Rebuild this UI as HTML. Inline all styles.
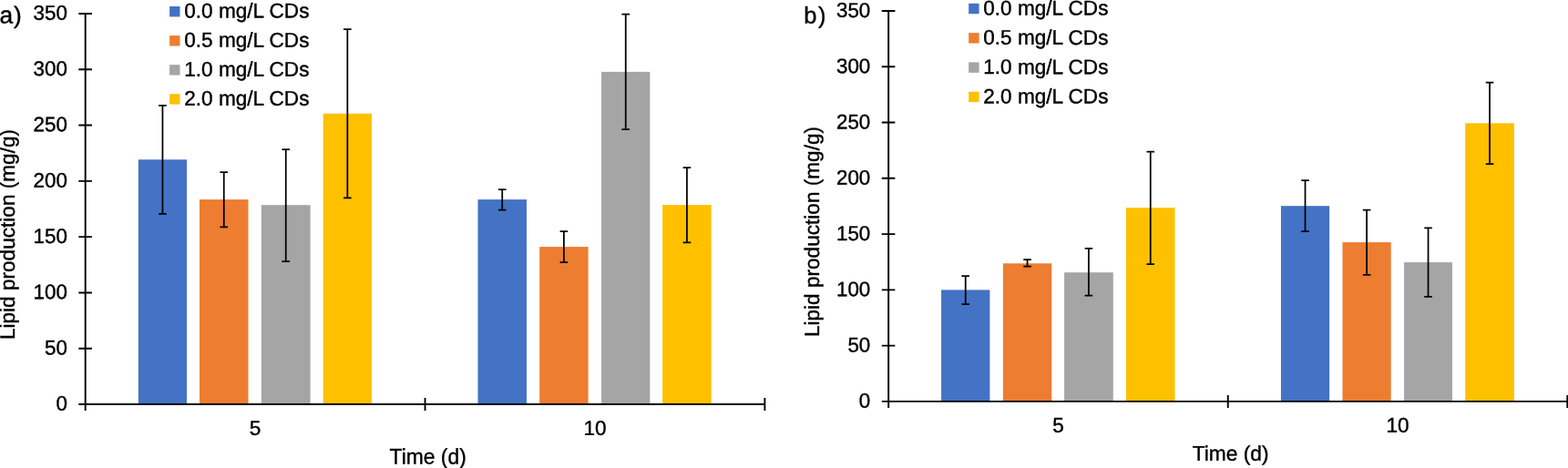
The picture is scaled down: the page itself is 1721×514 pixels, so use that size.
<!DOCTYPE html>
<html><head><meta charset="utf-8"><title>Lipid production</title>
<style>
html,body{margin:0;padding:0;background:#fff;}
body{width:1721px;height:514px;overflow:hidden;}
svg{display:block;}
text{font-family:"Liberation Sans", Arial, sans-serif;fill:#000;stroke:#000;stroke-width:0.4px;text-rendering:geometricPrecision;}
</style></head><body>
<svg width="1721" height="514" viewBox="0 0 1721 514">
<rect width="1721" height="514" fill="#fff"/>
<rect x="151.90" y="175.30" width="53.10" height="268.70" fill="#4472C4"/>
<rect x="219.00" y="219.10" width="53.50" height="224.90" fill="#ED7D31"/>
<rect x="286.90" y="225.20" width="53.70" height="218.80" fill="#A5A5A5"/>
<rect x="354.70" y="124.75" width="53.30" height="319.25" fill="#FFC000"/>
<rect x="524.50" y="219.10" width="53.50" height="224.90" fill="#4472C4"/>
<rect x="592.20" y="271.10" width="53.40" height="172.90" fill="#ED7D31"/>
<rect x="660.10" y="78.90" width="53.30" height="365.10" fill="#A5A5A5"/>
<rect x="727.20" y="225.10" width="53.50" height="218.90" fill="#FFC000"/>
<path d="M178.45 115.80V234.80M174.15 115.80H182.75M174.15 234.80H182.75" stroke="#000" stroke-width="1.75" fill="none"/>
<path d="M245.75 189.00V249.30M241.45 189.00H250.05M241.45 249.30H250.05" stroke="#000" stroke-width="1.75" fill="none"/>
<path d="M313.75 164.10V287.00M309.45 164.10H318.05M309.45 287.00H318.05" stroke="#000" stroke-width="1.75" fill="none"/>
<path d="M381.35 32.15V217.35M377.05 32.15H385.65M377.05 217.35H385.65" stroke="#000" stroke-width="1.75" fill="none"/>
<path d="M551.25 208.00V230.66M546.95 208.00H555.55M546.95 230.66H555.55" stroke="#000" stroke-width="1.75" fill="none"/>
<path d="M618.90 254.15V288.20M614.60 254.15H623.20M614.60 288.20H623.20" stroke="#000" stroke-width="1.75" fill="none"/>
<path d="M686.75 15.60V142.10M682.45 15.60H691.05M682.45 142.10H691.05" stroke="#000" stroke-width="1.75" fill="none"/>
<path d="M753.95 184.10V266.35M749.65 184.10H758.25M749.65 266.35H758.25" stroke="#000" stroke-width="1.75" fill="none"/>
<path d="M93.70 15.00V451.00M92.70 444.00H840.40M86.30 444.00H93.70M86.30 382.71H100.90M86.30 321.43H100.90M86.30 260.14H100.90M86.30 198.86H100.90M86.30 137.57H100.90M86.30 76.29H100.90M86.30 15.00H100.90M466.55 437.00V451.00M839.40 437.00V451.00" stroke="#000" stroke-width="1.9" fill="none"/>
<text transform="translate(73.90 450.80) scale(1 1.008) skewY(0.05)" text-anchor="end" font-size="22.4">0</text>
<text transform="translate(73.90 389.51) scale(1 1.008) skewY(0.05)" text-anchor="end" font-size="22.4">50</text>
<text transform="translate(73.90 328.23) scale(1 1.008) skewY(0.05)" text-anchor="end" font-size="22.4">100</text>
<text transform="translate(73.90 266.94) scale(1 1.008) skewY(0.05)" text-anchor="end" font-size="22.4">150</text>
<text transform="translate(73.90 205.66) scale(1 1.008) skewY(0.05)" text-anchor="end" font-size="22.4">200</text>
<text transform="translate(73.90 144.37) scale(1 1.008) skewY(0.05)" text-anchor="end" font-size="22.4">250</text>
<text transform="translate(73.90 83.09) scale(1 1.008) skewY(0.05)" text-anchor="end" font-size="22.4">300</text>
<text transform="translate(73.90 21.80) scale(1 1.008) skewY(0.05)" text-anchor="end" font-size="22.4">350</text>
<text transform="translate(280.12 477.70) scale(1 0.992) skewY(0.05)" text-anchor="middle" font-size="22.6">5</text>
<text transform="translate(652.98 477.70) scale(1 0.992) skewY(0.05)" text-anchor="middle" font-size="22.6">10</text>
<text transform="translate(469.65 509.58) scale(1 1.047) skewY(0.05)" text-anchor="middle" font-size="22.85">Time (d)</text>
<text transform="translate(16.00 257.50) rotate(-90) scale(1 1.0)" x="0" y="0" text-anchor="middle" font-size="22.6">Lipid production (mg/g)</text>
<rect x="186.10" y="7.00" width="11.4" height="11.4" fill="#4472C4"/>
<text transform="translate(202.20 19.50) scale(1 1.005) skewY(0.05)" font-size="22.6">0.0 mg/L CDs</text>
<rect x="186.10" y="39.07" width="11.4" height="11.4" fill="#ED7D31"/>
<text transform="translate(202.20 51.57) scale(1 1.005) skewY(0.05)" font-size="22.6">0.5 mg/L CDs</text>
<rect x="186.10" y="71.14" width="11.4" height="11.4" fill="#A5A5A5"/>
<text transform="translate(202.20 83.64) scale(1 1.005) skewY(0.05)" font-size="22.6">1.0 mg/L CDs</text>
<rect x="186.10" y="103.21" width="11.4" height="11.4" fill="#FFC000"/>
<text transform="translate(202.20 115.71) scale(1 1.005) skewY(0.05)" font-size="22.6">2.0 mg/L CDs</text>
<text transform="translate(-0.60 25.56) scale(1 1.0) skewY(0.05)" letter-spacing="1.0" font-size="26.4">a)</text>
<rect x="1033.10" y="318.40" width="53.30" height="122.50" fill="#4472C4"/>
<rect x="1100.90" y="289.30" width="53.40" height="151.60" fill="#ED7D31"/>
<rect x="1168.10" y="299.20" width="53.70" height="141.70" fill="#A5A5A5"/>
<rect x="1236.00" y="228.20" width="53.50" height="212.70" fill="#FFC000"/>
<rect x="1405.95" y="226.20" width="53.20" height="214.70" fill="#4472C4"/>
<rect x="1473.50" y="266.10" width="53.20" height="174.80" fill="#ED7D31"/>
<rect x="1541.10" y="288.10" width="52.90" height="152.80" fill="#A5A5A5"/>
<rect x="1608.20" y="135.30" width="53.70" height="305.60" fill="#FFC000"/>
<path d="M1059.75 303.10V334.10M1055.45 303.10H1064.05M1055.45 334.10H1064.05" stroke="#000" stroke-width="1.75" fill="none"/>
<path d="M1127.60 285.20V292.50M1123.30 285.20H1131.90M1123.30 292.50H1131.90" stroke="#000" stroke-width="1.75" fill="none"/>
<path d="M1194.95 272.90V324.70M1190.65 272.90H1199.25M1190.65 324.70H1199.25" stroke="#000" stroke-width="1.75" fill="none"/>
<path d="M1262.75 166.60V290.10M1258.45 166.60H1267.05M1258.45 290.10H1267.05" stroke="#000" stroke-width="1.75" fill="none"/>
<path d="M1432.55 198.10V254.00M1428.25 198.10H1436.85M1428.25 254.00H1436.85" stroke="#000" stroke-width="1.75" fill="none"/>
<path d="M1500.10 230.60V301.90M1495.80 230.60H1504.40M1495.80 301.90H1504.40" stroke="#000" stroke-width="1.75" fill="none"/>
<path d="M1567.55 250.25V325.90M1563.25 250.25H1571.85M1563.25 325.90H1571.85" stroke="#000" stroke-width="1.75" fill="none"/>
<path d="M1635.05 90.70V180.00M1630.75 90.70H1639.35M1630.75 180.00H1639.35" stroke="#000" stroke-width="1.75" fill="none"/>
<path d="M975.20 12.00V447.90M974.20 440.90H1721.30M967.80 440.90H975.20M967.80 379.63H982.40M967.80 318.36H982.40M967.80 257.09H982.40M967.80 195.81H982.40M967.80 134.54H982.40M967.80 73.27H982.40M967.80 12.00H982.40M1347.75 433.90V447.90M1720.30 433.90V447.90" stroke="#000" stroke-width="1.9" fill="none"/>
<text transform="translate(955.30 447.80) scale(1 1.015) skewY(0.05)" text-anchor="end" font-size="22.4">0</text>
<text transform="translate(955.30 386.53) scale(1 1.015) skewY(0.05)" text-anchor="end" font-size="22.4">50</text>
<text transform="translate(955.30 325.26) scale(1 1.015) skewY(0.05)" text-anchor="end" font-size="22.4">100</text>
<text transform="translate(955.30 263.99) scale(1 1.015) skewY(0.05)" text-anchor="end" font-size="22.4">150</text>
<text transform="translate(955.30 202.71) scale(1 1.015) skewY(0.05)" text-anchor="end" font-size="22.4">200</text>
<text transform="translate(955.30 141.44) scale(1 1.015) skewY(0.05)" text-anchor="end" font-size="22.4">250</text>
<text transform="translate(955.30 80.17) scale(1 1.015) skewY(0.05)" text-anchor="end" font-size="22.4">300</text>
<text transform="translate(955.30 18.90) scale(1 1.015) skewY(0.05)" text-anchor="end" font-size="22.4">350</text>
<text transform="translate(1161.47 474.70) scale(1 1.01) skewY(0.05)" text-anchor="middle" font-size="22.6">5</text>
<text transform="translate(1534.03 474.70) scale(1 1.01) skewY(0.05)" text-anchor="middle" font-size="22.6">10</text>
<text transform="translate(1350.60 505.70) scale(1 1.0) skewY(0.05)" text-anchor="middle" font-size="22.75">Time (d)</text>
<text transform="translate(898.90 254.50) rotate(-90) scale(1 1.0)" x="0" y="0" text-anchor="middle" font-size="22.6">Lipid production (mg/g)</text>
<rect x="1063.20" y="3.80" width="11.4" height="11.4" fill="#4472C4"/>
<text transform="translate(1079.20 16.50) scale(1 1.005) skewY(0.05)" font-size="22.6">0.0 mg/L CDs</text>
<rect x="1063.20" y="36.10" width="11.4" height="11.4" fill="#ED7D31"/>
<text transform="translate(1079.20 48.80) scale(1 1.005) skewY(0.05)" font-size="22.6">0.5 mg/L CDs</text>
<rect x="1063.20" y="68.40" width="11.4" height="11.4" fill="#A5A5A5"/>
<text transform="translate(1079.20 81.10) scale(1 1.005) skewY(0.05)" font-size="22.6">1.0 mg/L CDs</text>
<rect x="1063.20" y="100.70" width="11.4" height="11.4" fill="#FFC000"/>
<text transform="translate(1079.20 113.40) scale(1 1.005) skewY(0.05)" font-size="22.6">2.0 mg/L CDs</text>
<text transform="translate(882.20 25.40) scale(1 1.0) skewY(0.05)" letter-spacing="1.5" font-size="25.6">b)</text>
</svg>
</body></html>
